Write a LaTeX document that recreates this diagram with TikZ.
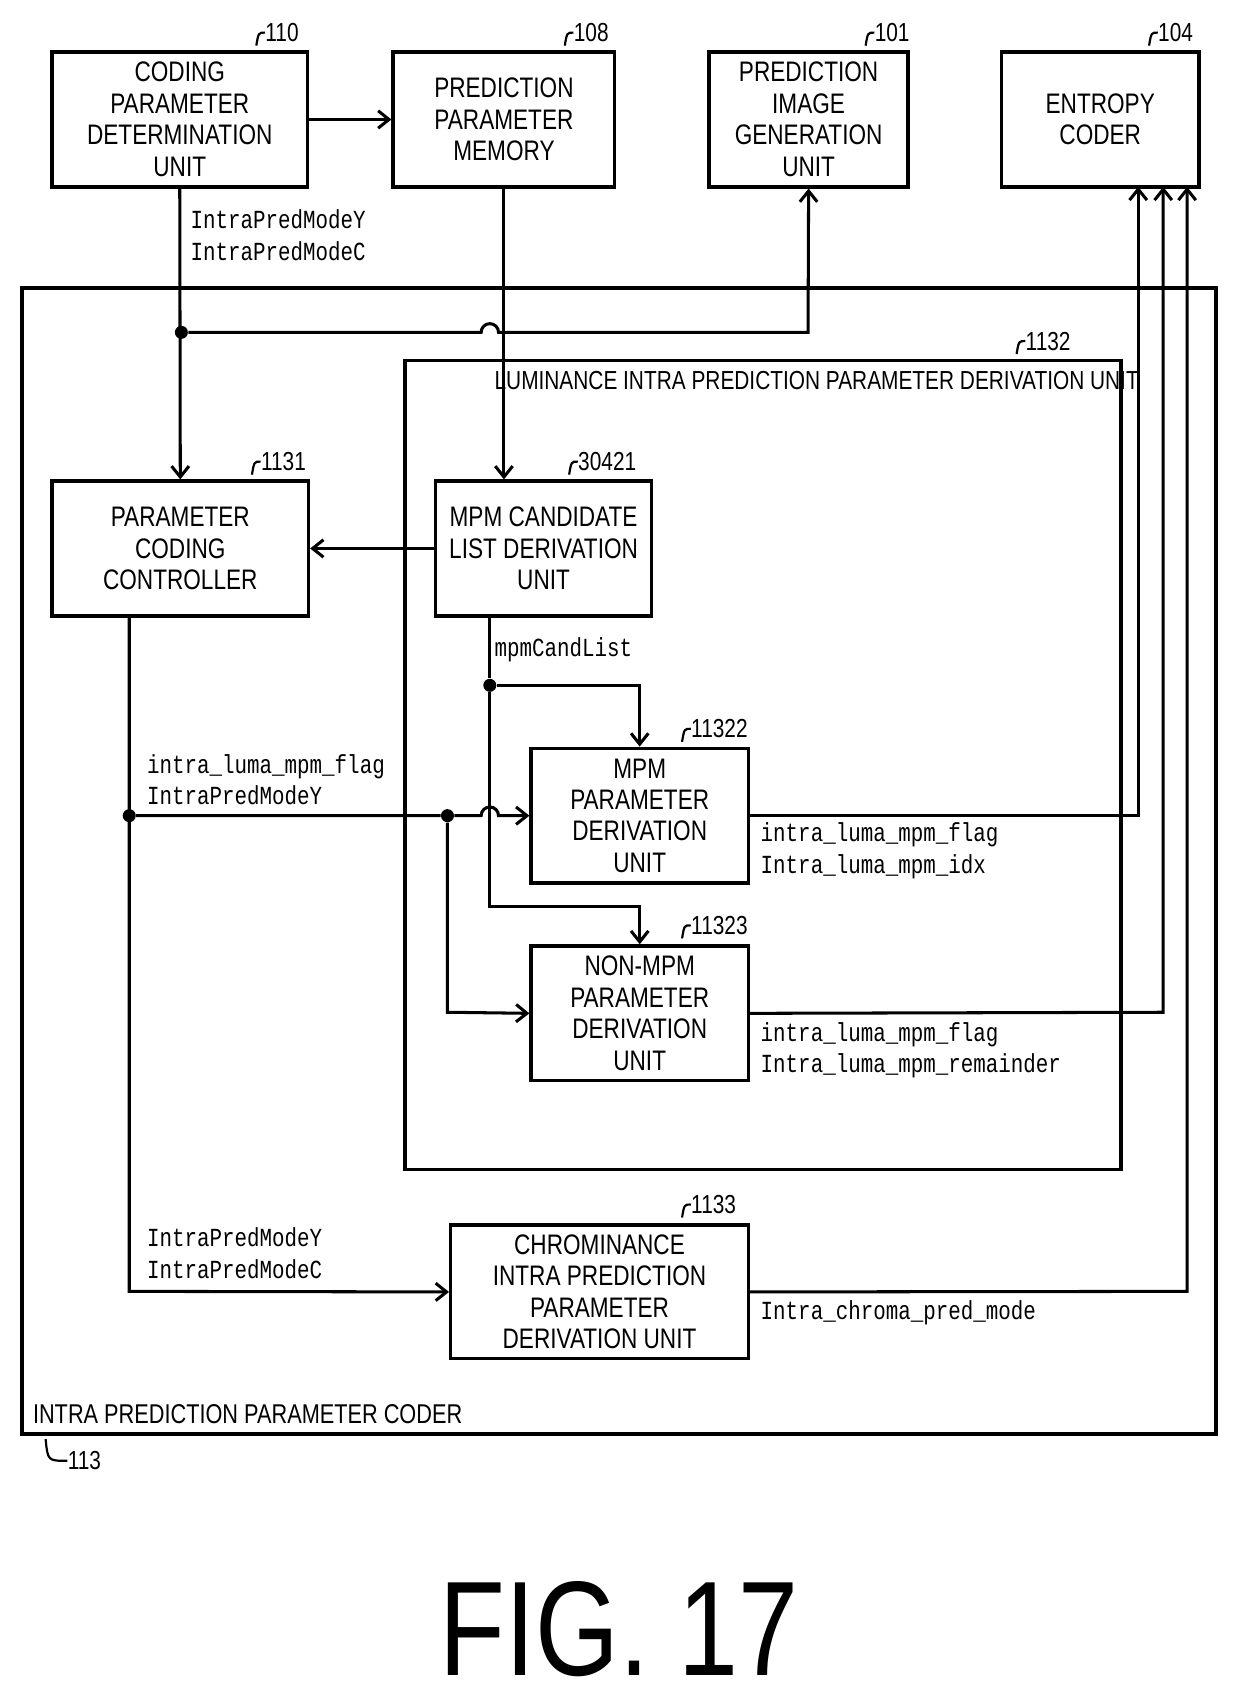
\documentclass[tikz,border=0pt]{standalone}
\usepackage{fontspec}
\setmainfont[FakeStretch=0.8]{Liberation Sans}
\newfontfamily\lblfont[FakeStretch=0.8]{Liberation Mono}
\usetikzlibrary{arrows.meta}
\begin{document}
\begin{tikzpicture}[x=0.5pt,y=-0.5pt,
 box/.style={draw,line width=1.6pt,align=center,font=\fontsize{13}{14.5}\selectfont,inner sep=0pt},
 ln/.style={line width=1.4pt},
 arr/.style={ln,-{Straight Barb[length=5pt,width=8pt]}},
 lbl/.style={font=\lblfont\fontsize{12}{14.5}\selectfont,anchor=north west,inner sep=0pt,align=left},
 num/.style={font=\fontsize{12}{14}\selectfont,anchor=west,inner sep=0pt},
 dot/.style={circle,fill,inner sep=0pt,minimum size=6pt}]
\useasboundingbox (0,0) rectangle (1140,1568);
% top boxes
\node[box,minimum width=117.5pt,minimum height=62pt] (b110) at (165.5,110) {CODING\\PARAMETER\\DETERMINATION\\UNIT};
\node[box,minimum width=102pt,minimum height=62pt] (b108) at (464,110) {PREDICTION\\PARAMETER\\MEMORY};
\node[box,minimum width=91.5pt,minimum height=62pt] (b101) at (744.5,110) {PREDICTION\\IMAGE\\GENERATION\\UNIT};
\node[box,minimum width=91pt,minimum height=62pt] (b104) at (1013,110) {ENTROPY\\CODER};
% containers
\draw[line width=1.8pt] (20,265) rectangle (1120,1320);
\draw[line width=1.6pt] (373,332) rectangle (1032,1077);
\node[anchor=west,inner sep=0pt,font=\fontsize{12}{14}\selectfont] (t1132) at (455,350) {LUMINANCE INTRA PREDICTION PARAMETER DERIVATION UNIT};
\node[anchor=west,inner sep=0pt,font=\fontsize{12.5}{14}\selectfont] (t113) at (30,1302) {INTRA PREDICTION PARAMETER CODER};
% inner boxes
\node[box,minimum width=118pt,minimum height=62pt] (b1131) at (166,505) {PARAMETER\\CODING\\CONTROLLER};
\node[box,minimum width=99.5pt,minimum height=62pt] (b30421) at (500.5,505) {MPM CANDIDATE\\LIST DERIVATION\\UNIT};
\node[box,minimum width=100pt,minimum height=62pt] (b11322) at (589,751) {MPM\\PARAMETER\\DERIVATION\\UNIT};
\node[box,minimum width=100pt,minimum height=62pt] (b11323) at (589,933) {NON-MPM\\PARAMETER\\DERIVATION\\UNIT};
\node[box,minimum width=137pt,minimum height=61.5pt] (b1133) at (552,1189.5) {CHROMINANCE\\INTRA PREDICTION\\PARAMETER\\DERIVATION UNIT};
% numbers with hooks
\foreach \n/\x/\y/\t in {n110/244/30/110,n108/528/30/108,n101/805/30/101,n104/1066/30/104,n1132/944/314/1132,n1131/240/425/1131,n30421/532/425/30421,n11322/636/671/11322,n11323/636/852/11323,n1133/636/1109/1133}{
 \node[num] (\n) at (\x,\y) {\t};
 \draw[line width=1pt] (\x,\y) .. controls (\x-6,\y) .. (\x-8,\y+12);
}
\node[num] (n113) at (62,1345) {113};
\draw[line width=1pt] (62,1345) .. controls (44,1345) .. (42,1325);
% connectors
\draw[arr] (b110.east) -- (b108.west);
\draw[arr] (b110.south) -- (b1131.north);
\node[lbl] (l1) at (175,193) {IntraPredModeY\\IntraPredModeC};
\node[dot] (d1) at (167,306) {};
\draw[arr] (d1) -- (443,306) arc[start angle=180,end angle=360,radius=8] -- (744,306) -- (b101.south);
\draw[arr] (b108.south) -- (b108.south |- b30421.north);
\draw[arr] (b30421.west) -- (b1131.east);
\node[lbl] (l2) at (455,587) {mpmCandList};
\node[dot] (d2) at (451,631) {};
\draw[ln] (451,567) -- (d2);
\draw[arr] (d2) -- (589,631) -- (b11322.north);
\draw[arr] (d2) -- (451,835) -- (589,835) -- (b11323.north);
\draw[arr] (119,567) -- (119,1189) -- (b1133.west);
\node[dot] (d3) at (119,751) {};
\node[dot] (d4) at (412,751) {};
\draw[arr] (d3) -- (d4) -- (443,751) arc[start angle=180,end angle=360,radius=8] -- (b11322.west);
\draw[arr] (d4) -- (412,932) -- (b11323.west);
\node[lbl] (l3) at (135,694) {intra\_luma\_mpm\_flag\\IntraPredModeY};
\node[lbl] (l4) at (135,1130) {IntraPredModeY\\IntraPredModeC};
\draw[arr] (b11322.east) -- (1048,751) -- (1048,172);
\draw[arr] (b11323.east) -- (1071,932) -- (1071,172);
\draw[arr] (b1133.east) -- (1093,1189) -- (1093,172);
\node[lbl] (l5) at (700,757) {intra\_luma\_mpm\_flag\\Intra\_luma\_mpm\_idx};
\node[lbl] (l6) at (700,941) {intra\_luma\_mpm\_flag\\Intra\_luma\_mpm\_remainder};
\node[lbl] (l7) at (700,1197) {Intra\_chroma\_pred\_mode};
\node[inner sep=0pt,font=\fontsize{62}{62}\selectfont] (fig) at (570,1500) {FIG. 17};
\end{tikzpicture}
\end{document}
